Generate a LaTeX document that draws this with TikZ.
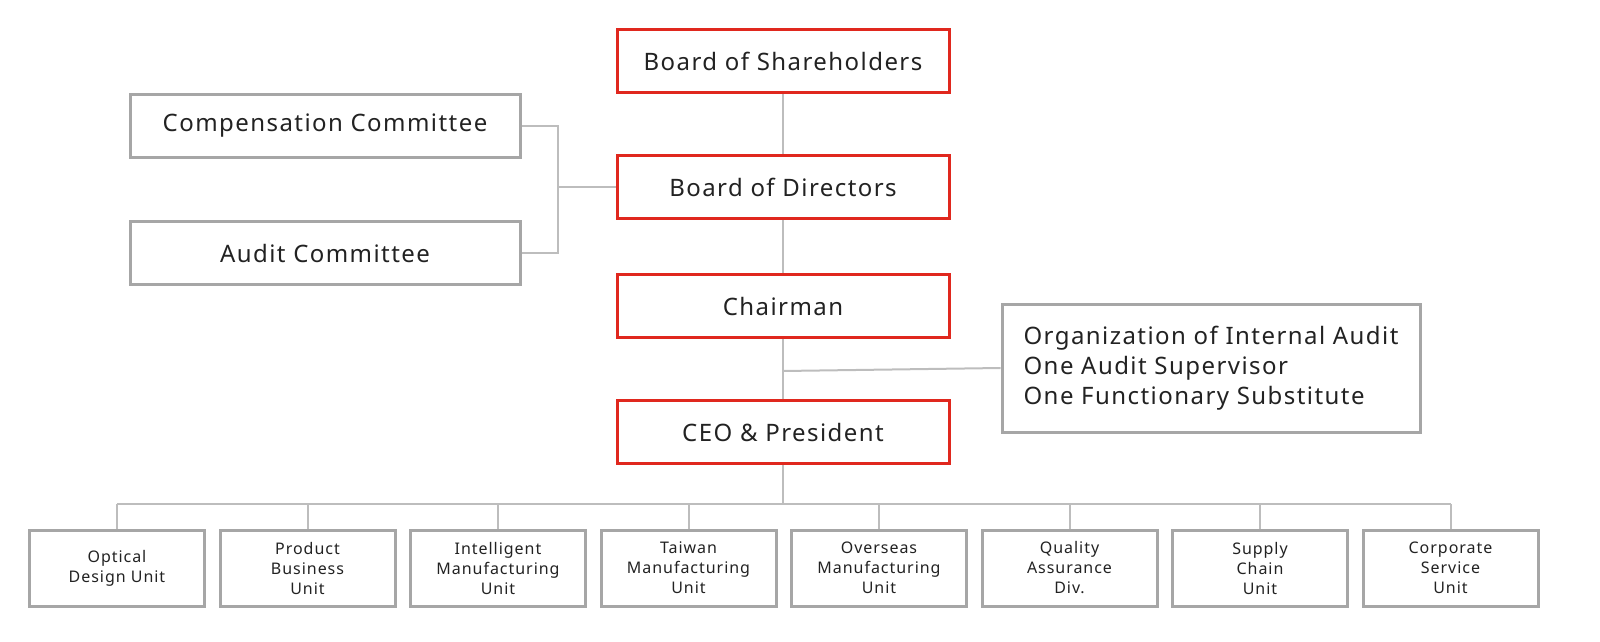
\documentclass[tikz,border=0pt]{standalone}
\usepackage{fontspec}
\setmainfont{Noto Sans}
\usetikzlibrary{positioning, calc}
\definecolor{boxred}{HTML}{E0281E}
\definecolor{boxgray}{HTML}{A6A6A6}
\definecolor{linegray}{HTML}{BDBDBD}
\definecolor{txt}{HTML}{222222}

\begin{document}
\begin{tikzpicture}[x=1pt, y=-1pt]
        % Styles
        \tikzset{
            head/.style={draw=boxred, line width=3pt, minimum width=332pt, minimum height=63pt,
                font=\fontsize{24}{28}\selectfont\addfontfeatures{LetterSpace=6}, text=txt},
            side/.style={draw=boxgray, line width=3pt, minimum width=390pt, minimum height=63pt,
                font=\fontsize{24}{28}\selectfont\addfontfeatures{LetterSpace=6}, text=txt},
            unit/.style={draw=boxgray, line width=3pt, minimum width=175pt, minimum height=76pt,
                align=center, font=\fontsize{16}{20}\selectfont\addfontfeatures{LetterSpace=6}, text=txt},
            link/.style={draw=linegray, line width=2pt}
        }
        \useasboundingbox (0,0) rectangle (1600,642);

        % Main chain
        \node[head] (share) at (783,61) {Board of Shareholders};
        \node[head] (dir) at (783,187) {Board of Directors};
        \node[head] (chair) at (783,306) {Chairman};
        \node[head] (ceo) at (783,432) {CEO \& President};

        % Committees
        \node[side] (comp) at (325,126) {Compensation Committee};
        \node[side] (audit) at (325,253) {Audit Committee};
        \node[draw=boxgray, line width=3pt, minimum width=418pt, minimum height=128pt,
            align=left, text=txt, font=\fontsize{24}{30}\selectfont\addfontfeatures{LetterSpace=6}]
            (internal) at (1211,368) {Organization of Internal Audit\\One Audit Supervisor\\One Functionary Substitute};

        % Units
        \foreach \name/\label [count=\i from 0] in {
            opt/{Optical\\Design Unit}, prod/{Product\\Business\\Unit},
            intel/{Intelligent\\Manufacturing\\Unit}, tw/{Taiwan\\Manufacturing\\Unit},
            over/{Overseas\\Manufacturing\\Unit}, qa/{Quality\\Assurance\\Div.},
            sc/{Supply\\Chain\\Unit}, corp/{Corporate\\Service\\Unit}} {
            \node[unit] (\name) at (117+190.5*\i,568) {\label};
            \draw[link] (\name.north) -- ++(0,-25);
        }

        % Connectors
        \draw[link] (share) -- (dir);
        \draw[link] (dir) -- (chair);
        \draw[link] (chair) -- (ceo);
        \coordinate (mid) at (558,187);
        \draw[link] (comp.east) -| (mid) |- (audit.east);
        \draw[link] (mid) -- (dir.west);
        \draw[link] (783,371) -- (internal.west);
        \draw[link] (ceo.south) -- (783,505);
        \draw[link] ($(opt.north)+(0,-25)$) -- ($(corp.north)+(0,-25)$);
\end{tikzpicture}
\end{document}
